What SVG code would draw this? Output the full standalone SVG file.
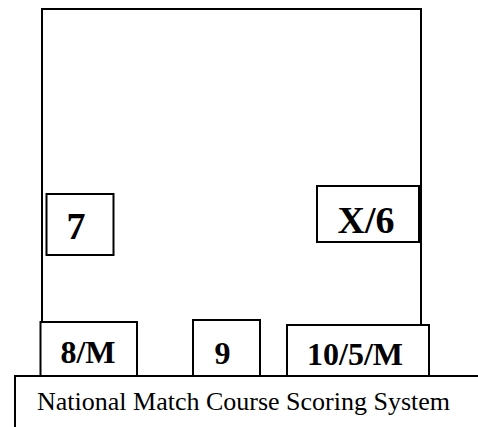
<svg xmlns="http://www.w3.org/2000/svg" width="478" height="427" viewBox="0 0 478 427">
<style>
.b{fill:#fff;stroke:#000;stroke-width:2}
.ln{fill:none;stroke:#000;stroke-width:2}
.lb{font-family:"Liberation Serif","Times New Roman",serif;font-weight:bold;fill:#000}
.ft{font-family:"Liberation Serif","Times New Roman",serif;font-size:26px;fill:#000}
</style>
<rect width="478" height="427" fill="#fff"/>
<g id="target">
<path class="ln" d="M42,323 V9 H421 V325"/>
</g>
<g id="n7">
<rect class="b" x="46.5" y="194" width="67" height="61"/>
<text class="lb" x="76" y="239" font-size="38" text-anchor="middle">7</text>
</g>
<g id="nX6">
<rect class="b" x="317" y="186" width="102" height="56"/>
<text class="lb" x="366" y="233" font-size="38" text-anchor="middle">X/6</text>
</g>
<g id="n8M">
<rect class="b" x="40.5" y="322" width="96.5" height="54"/>
<text class="lb" x="88" y="363" font-size="32" text-anchor="middle">8/M</text>
</g>
<g id="n9">
<rect class="b" x="193" y="320" width="67" height="56"/>
<text class="lb" x="222.5" y="364" font-size="32" text-anchor="middle">9</text>
</g>
<g id="n105M">
<rect class="b" x="287" y="325" width="142" height="51"/>
<text class="lb" x="355" y="365" font-size="32" text-anchor="middle">10/5/M</text>
</g>
<g id="footer">
<path class="ln" d="M15,428 V376 H479"/>
<text class="ft" x="37" y="410">National Match Course Scoring System</text>
</g>
<g id="connectors"></g>
</svg>
